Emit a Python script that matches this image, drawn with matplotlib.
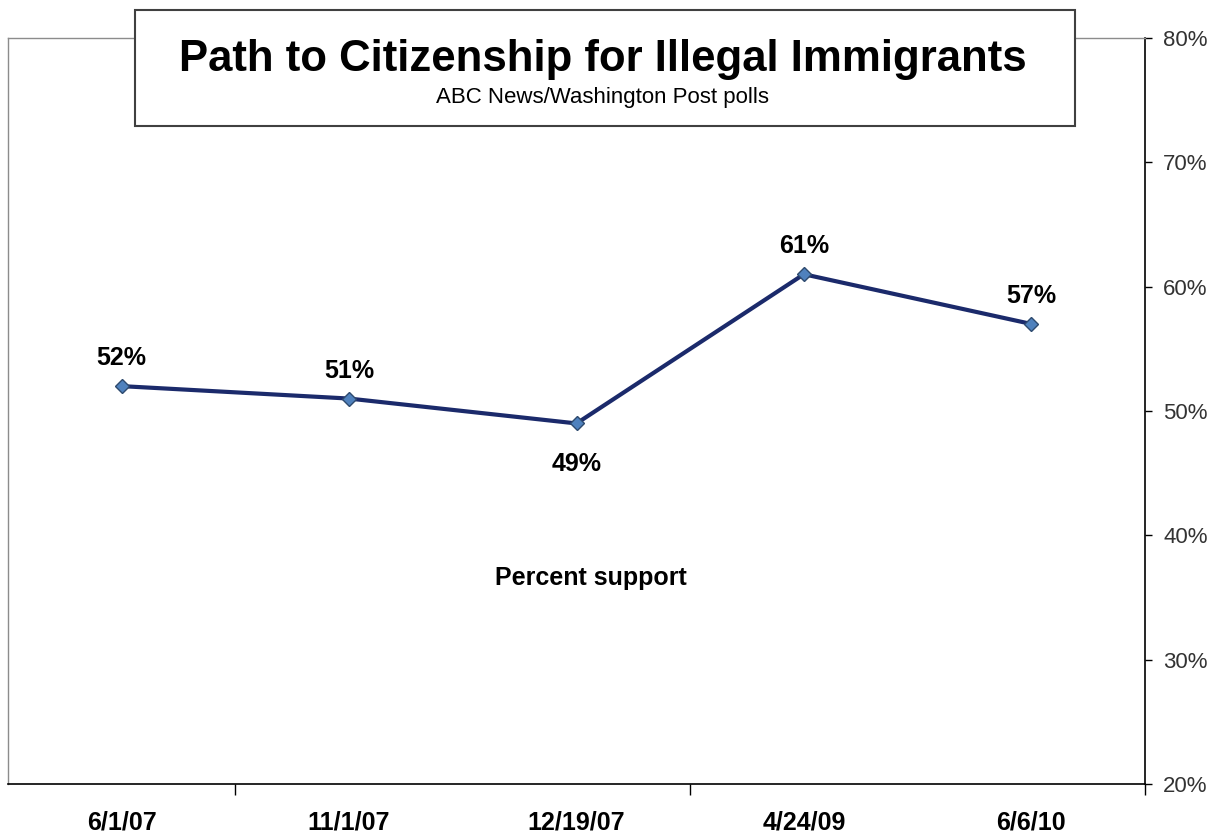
import matplotlib
matplotlib.use("Agg")
import matplotlib.pyplot as plt
from matplotlib.patches import Rectangle

categories = ["6/1/07", "11/1/07", "12/19/07", "4/24/09", "6/6/10"]
support = [52, 51, 49, 61, 57]
label_pos = ["above", "above", "below", "above", "above"]
yticks = [20, 30, 40, 50, 60, 70, 80]

plt.rcParams['font.family'] = ['Liberation Sans', 'DejaVu Sans']

W, H = 1217, 836
fig = plt.figure(figsize=(W / 100, H / 100), dpi=100)
ax = fig.add_axes([8 / W, (H - 784) / H, (1145 - 8) / W, (784 - 38) / H])

x = list(range(len(categories)))
ax.plot(x, support, color='#1b2a6b', lw=3, marker='D', markersize=7.5,
        markerfacecolor='#4f81bd', markeredgecolor='#2e4a6e', markeredgewidth=1, zorder=3)

for xi, v, pos in zip(x, support, label_pos):
    dy = 20 if pos == "above" else -29
    ax.annotate(f"{v}%", (xi, v), xytext=(0, dy), textcoords='offset points',
                ha='center', va='center', fontsize=18, fontweight='bold')

ax.set_xlim(-0.5, len(categories) - 0.5)
ax.set_ylim(20, 80)

ax.yaxis.tick_right()
ax.set_yticks(yticks)
ax.set_yticklabels([f"{t}%" for t in yticks], fontsize=16, color='#333333')
ax.tick_params(axis='y', direction='out', length=5, width=1, pad=8, color='black')

ax.set_xticks(x)
ax.set_xticklabels(categories, fontsize=18, fontweight='bold')
ax.tick_params(axis='x', length=0, pad=19)
# minor ticks at every other category boundary
ax.set_xticks([0.5, 2.5, 4.5], minor=True)
ax.tick_params(axis='x', which='minor', direction='out', length=8, width=1, color='black')

for s in ['left', 'top']:
    ax.spines[s].set_color('#8c8c8c')
    ax.spines[s].set_linewidth(1)
for s in ['right', 'bottom']:
    ax.spines[s].set_color('black')
    ax.spines[s].set_linewidth(1.2)

ax.text((591 - 8) / (1145 - 8), (784 - 578) / (784 - 38), "Percent support",
        transform=ax.transAxes, ha='center', va='center', fontsize=18, fontweight='bold')

# Title box
bx0, by0, bx1, by1 = 135, 10, 1075, 126
fig.patches.append(Rectangle((bx0 / W, 1 - by1 / H), (bx1 - bx0) / W, (by1 - by0) / H,
                             transform=fig.transFigure, facecolor='white',
                             edgecolor='#404040', linewidth=1.5, zorder=5))
fig.text(603 / W, 1 - 59 / H, "Path to Citizenship for Illegal Immigrants",
         ha='center', va='center', fontsize=31.5, fontweight='bold', zorder=6)
fig.text(603 / W, 1 - 97 / H, "ABC News/Washington Post polls",
         ha='center', va='center', fontsize=16, zorder=6)

fig.savefig("out.png", dpi=100)
